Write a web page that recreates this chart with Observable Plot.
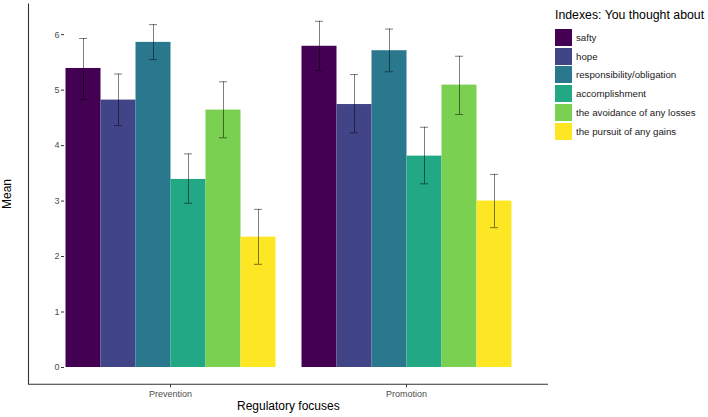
<!DOCTYPE html>
<html>
<head>
<meta charset="utf-8">
<script src="https://cdn.jsdelivr.net/npm/d3@7"></script>
<script src="https://cdn.jsdelivr.net/npm/@observablehq/plot@0.6"></script>
<style>
  body { margin: 0; background: white; font-family: "Liberation Sans", Arial, sans-serif; }
  #wrap { position: relative; width: 708px; height: 417px; }
  #chart svg { display: block; }
  .ttl { position: absolute; color: #000; font-size: 12px; white-space: nowrap; }
  #legend { position: absolute; left: 555px; top: 8px; }
  #legend .head { font-size: 12.3px; color: #000; margin-bottom: 6px; }
  #legend .row { display: flex; align-items: center; height: 18.8px; }
  #legend .key { width: 17px; height: 17px; margin-right: 4px; }
  #legend .lab { font-size: 9.7px; color: #1a1a1a; }
</style>
</head>
<body>
<div id="wrap">
  <div id="chart"></div>
  <div class="ttl" id="ylab" style="left:-8px; top:187px; transform: rotate(-90deg);">Mean</div>
  <div class="ttl" id="xlab" style="left:237px; top:399px;">Regulatory focuses</div>
  <div id="legend"></div>
</div>
<script>
// groups on the x axis and the six indexes (legend order)
const groups = ['Prevention', 'Promotion']
const indexes = ['safty', 'hope', 'responsibility/obligation', 'accomplishment', 'the avoidance of any losses', 'the pursuit of any gains']
const colors = ['#440154', '#414487', '#2A788E', '#22A884', '#7AD151', '#FDE725']

// means and error bar ends, per group
const meanPrevention = [5.39, 4.82, 5.86, 3.39, 4.64, 2.35]
const lowPrevention  = [4.83, 4.36, 5.55, 2.96, 4.14, 1.86]
const highPrevention = [5.93, 5.29, 6.18, 3.85, 5.15, 2.85]
const meanPromotion  = [5.79, 4.74, 5.71, 3.81, 5.09, 3.00]
const lowPromotion   = [5.35, 4.23, 5.33, 3.31, 4.56, 2.52]
const highPromotion  = [6.24, 5.28, 6.10, 4.33, 5.61, 3.48]

const yTicks = [0, 1, 2, 3, 4, 5, 6]

const data = [
  ...indexes.map((k, i) => ({ group: 'Prevention', index: k, mean: meanPrevention[i], lo: lowPrevention[i], hi: highPrevention[i] })),
  ...indexes.map((k, i) => ({ group: 'Promotion', index: k, mean: meanPromotion[i], lo: lowPromotion[i], hi: highPromotion[i] })),
]

// ggplot-like 5% expansion of the y range
const yMax = d3.max(data, d => d.hi)
const pad = yMax * 0.05
const W = 708, H = 417
const mL = 28.5, mR = 160, mT = 3.5, mB = 32.7

const chart = Plot.plot({
  width: W,
  height: H,
  marginLeft: mL,
  marginRight: mR,
  marginTop: mT,
  marginBottom: mB,
  style: { fontFamily: '"Liberation Sans", Arial, sans-serif', fontSize: '9px', color: '#4d4d4d', background: 'white' },
  fx: { domain: groups, paddingInner: 0.1, paddingOuter: 0.15, label: null },
  x: { domain: indexes, padding: 0, axis: null },
  y: { domain: [-pad, yMax + pad], label: null },
  color: { domain: indexes, range: colors },
  marks: [
    Plot.axisY({ ticks: yTicks, tickFormat: d3.format('d'), tickSize: 3, tickPadding: 2, label: null, stroke: '#333' }),
    Plot.axisFx({ anchor: 'bottom', tickSize: 3, tickPadding: 3, label: null, stroke: '#333' }),
    Plot.barY(data, { fx: 'group', x: 'index', y: 'mean', fill: 'index' }),
    Plot.ruleX(data, { fx: 'group', x: 'index', y1: 'lo', y2: 'hi', stroke: 'black', strokeOpacity: 0.5, strokeWidth: 1 }),
    Plot.tickY(data, { fx: 'group', x: 'index', y: 'lo', inset: 13.5, stroke: 'black', strokeOpacity: 0.5, strokeWidth: 1 }),
    Plot.tickY(data, { fx: 'group', x: 'index', y: 'hi', inset: 13.5, stroke: 'black', strokeOpacity: 0.5, strokeWidth: 1 }),
  ],
})

// axis lines (left and bottom) like theme_classic
d3.select(chart).append('path')
  .attr('d', `M${mL},${mT}V${H - mB}H${W - mR}`)
  .attr('fill', 'none')
  .attr('stroke', '#333')
  .attr('stroke-width', 1.1)

document.getElementById('chart').append(chart)

// legend on the right
const legend = d3.select('#legend')
legend.append('div').attr('class', 'head').text('Indexes: You thought about')
const rows = legend.selectAll('.row').data(indexes).join('div').attr('class', 'row')
rows.append('div').attr('class', 'key').style('background', (d, i) => colors[i])
rows.append('div').attr('class', 'lab').text(d => d)
</script>
</body>
</html>
